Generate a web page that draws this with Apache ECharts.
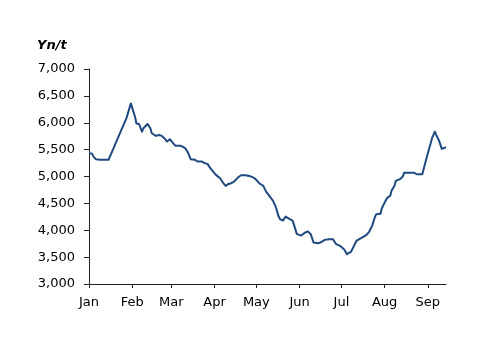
<!DOCTYPE html>
<html>
<head>
<meta charset="utf-8">
<script src="https://cdn.jsdelivr.net/npm/echarts@6/dist/echarts.min.js"></script>
<style>html,body{margin:0;padding:0;background:#fff}#c{width:500px;height:353px}</style>
</head>
<body>
<div id="c"></div>
<script>
var monthLabels = ['Jan','Feb','Mar','Apr','May','Jun','Jul','Aug','Sep'];
var yTicks = [3000,3500,4000,4500,5000,5500,6000,6500,7000];
var dates = ['01-01','01-03','01-04','01-06','01-09','01-15','01-16','01-28','01-31',
'02-03','02-04','02-06','02-08','02-09','02-12','02-14','02-15','02-18','02-20','02-22','02-24','02-26','02-28',
'03-02','03-04','03-08','03-11','03-13','03-15','03-18','03-20','03-23','03-25','03-27','03-29','03-31',
'04-02','04-05','04-07','04-09','04-11','04-13','04-15','04-18','04-20','04-23','04-26','04-29',
'05-01','05-03','05-06','05-08','05-11','05-13','05-15','05-17','05-18','05-20','05-22','05-25','05-27','05-28','05-30',
'06-02','06-03','06-05','06-07','06-09','06-11','06-14','06-16','06-19','06-22','06-25','06-27','06-30',
'07-03','07-05','07-08','07-10','07-12','07-15','07-17','07-19','07-21','07-23','07-25','07-26','07-29','07-30',
'08-01','08-03','08-05','08-06','08-08','08-09','08-12','08-14','08-15','08-22','08-24','08-28','08-31',
'09-02','09-04','09-06','09-07','09-09','09-11','09-12','09-14'];
var prices = [5430,5430,5380,5320,5310,5310,5370,6095,6360,
6113,5990,5972,5834,5897,5977,5897,5805,5755,5773,5760,5712,5650,5693,
5630,5570,5570,5526,5444,5320,5310,5277,5277,5247,5235,5154,5091,
5030,4968,4887,4825,4862,4875,4905,4987,5024,5024,5011,4980,
4937,4875,4825,4719,4615,4546,4429,4254,4206,4180,4254,4206,4180,4100,3933,
3901,3883,3957,3976,3927,3771,3760,3771,3821,3834,3834,3747,3710,
3640,3555,3604,3710,3808,3853,3883,3914,3976,4082,4243,4299,4305,4410,
4515,4608,4639,4738,4825,4918,4950,4998,5072,5072,5042,5042,5340,
5526,5712,5834,5773,5667,5513,5507,5545];
var year = '2011';
var startDay = year + '-01-01', endDay = year + '-09-14';

// daily category list for the axis
var days = [];
(function(){
  var d = new Date(startDay + 'T00:00:00Z'), e = new Date(endDay + 'T00:00:00Z');
  while (d <= e) { days.push(d.toISOString().slice(0,10)); d.setUTCDate(d.getUTCDate()+1); }
})();
var seriesData = dates.map(function(s,i){ return [year + '-' + s, prices[i]]; });

var isMonthStart = function(idx, val){ return val.slice(8) === '01'; };
var chart = echarts.init(document.getElementById('c'), null, {renderer:'canvas'});
chart.setOption({
  animation:false,
  title:{text:'Yn/t', left:32, top:34, textStyle:{fontFamily:'DejaVu Sans', fontSize:13, fontWeight:'bold', fontStyle:'italic', color:'#000'}},
  grid:{left:89, right:54, top:69, bottom:69, containLabel:false},
  xAxis:{
    type:'category', data:days, boundaryGap:false,
    axisLine:{lineStyle:{color:'#222', width:1}},
    axisTick:{interval:isMonthStart, length:4, lineStyle:{color:'#222'}},
    axisLabel:{interval:isMonthStart, margin:12, fontFamily:'DejaVu Sans', fontSize:13, color:'#000',
      formatter:function(v){ return monthLabels[parseInt(v.slice(5,7),10)-1]; }},
    splitLine:{show:false}
  },
  yAxis:{
    type:'value', min:yTicks[0], max:yTicks[yTicks.length-1], interval:500,
    axisLine:{show:true, lineStyle:{color:'#222', width:1}},
    axisTick:{show:true, length:5, lineStyle:{color:'#222'}},
    axisLabel:{margin:14, fontFamily:'DejaVu Sans', fontSize:13, color:'#000',
      formatter:function(v){ return v.toLocaleString('en-US'); }},
    splitLine:{show:false}
  },
  series:[{type:'line', data:seriesData, showSymbol:false, connectNulls:true,
    lineStyle:{color:'#1F4A80', width:2, join:'round'}}]
});
</script>
</body>
</html>
